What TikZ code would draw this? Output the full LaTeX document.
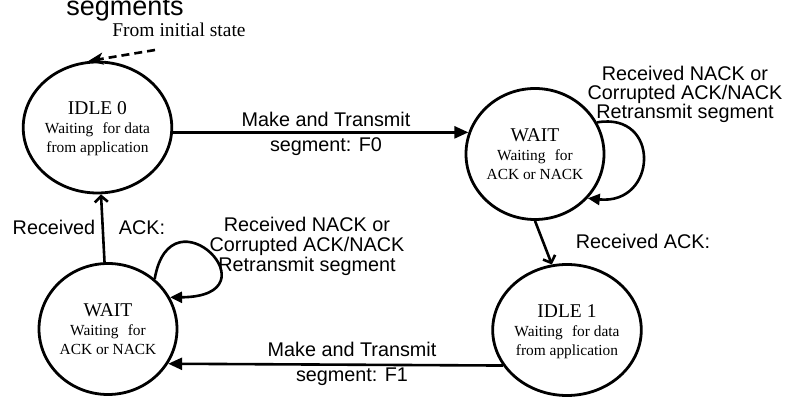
\documentclass[tikz,border=0pt]{standalone}
\usepackage{fontspec}
\setmainfont{Liberation Serif}
\newfontfamily\lblfont{Liberation Sans}
\usetikzlibrary{arrows.meta,shapes.geometric}
\tikzset{
  state/.style={draw, ellipse, line width=2.8pt, minimum width=138pt, minimum height=131pt,
    inner sep=0pt, align=center, text depth=0pt, font=\fontsize{15.4}{19}\selectfont},
  lbl/.style={font=\lblfont\fontsize{19.8}{19}\selectfont, inner sep=0pt, align=center},
  arr/.style={line width=2.6pt, -{Triangle[length=14pt,width=12pt]}},
  looparr/.style={line width=2.6pt, -{Triangle[length=12pt,width=11pt]}},
  openarr/.style={line width=2.6pt, -{Straight Barb[length=6pt,width=13pt]}},
  initarr/.style={line width=2.6pt, dash pattern=on 8pt off 5pt,
    -{Stealth[length=15pt,width=12pt,inset=4pt]}},
}
\newcommand{\sttl}[1]{{\fontsize{19.5}{19}\selectfont #1}}
\begin{document}
\begin{tikzpicture}[x=1pt,y=1pt]
  \useasboundingbox[fill=white] (0,0) rectangle (790,412);

  \node[state] (idle0) at (97.5,284.5) {\sttl{IDLE 0}\\Waiting\hspace{0.35em} for data\\from application};
  \node[state] (wait1) at (535,258) {\sttl{WAIT}\\Waiting\hspace{0.35em} for\\ACK or NACK};
  \node[state] (wait2) at (108,83) {\sttl{WAIT}\\Waiting\hspace{0.35em} for\\ACK or NACK};
  \node[state] (idle1) at (567,82) {\sttl{IDLE 1}\\Waiting\hspace{0.35em} for data\\from application};

  % title fragment and initial arrow
  \node[font=\lblfont\fontsize{27}{27}\selectfont, inner sep=0pt, anchor=base] (seg) at (125,396) {segments};
  \node[font=\fontsize{19.5}{19}\selectfont, inner sep=0pt, anchor=base] (init) at (179,375) {From initial state};
  \coordinate (istart) at (155,362);
  \draw[initarr] (istart) -- (idle0.98);

  % transitions
  \draw[arr] (idle0.east |- wait1.162) -- (wait1.162);
  \node[lbl, anchor=base] (m0) at (326,285) {Make and Transmit};
  \node[lbl, anchor=base] (s0) at (326,260) {segment: F0};

  \draw[openarr] (wait1.south) -- (idle1.103);
  \node[lbl, anchor=base] (r1) at (643,163) {Received ACK:};

  \draw[arr] (idle1.209) -- (wait2.-30);
  \node[lbl, anchor=base] (m1) at (352,55) {Make and Transmit};
  \node[lbl, anchor=base] (s1) at (352,30) {segment: F1};

  \draw[openarr] (wait2) -- (idle0);
  \node[lbl, anchor=base] (r0a) at (54,177) {Received};
  \node[lbl, anchor=base] (r0b) at (142,177) {ACK:};

  % self loops
  \draw[looparr] (wait1.27) .. controls +(64,11) and +(70,-7) .. (wait1.-40);
  \node[lbl, anchor=base] (lp1) at (685,293) {Received NACK or\\Corrupted ACK/NACK\\Retransmit segment};

  \draw[looparr] (wait2.47) .. controls +(16,93) and +(109,1) .. (wait2.27);
  \node[lbl, anchor=base, font=\lblfont\fontsize{19.8}{20}\selectfont] (lp2) at (307,140) {Received NACK or\\Corrupted ACK/NACK\\Retransmit segment};
\end{tikzpicture}
\end{document}
